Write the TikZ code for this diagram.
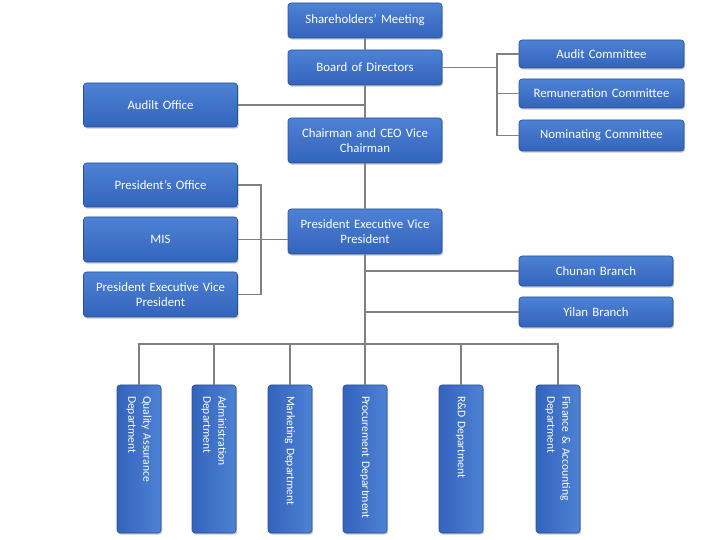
\documentclass[tikz,border=0pt]{standalone}
\usepackage{fontspec}
\setmainfont{Carlito}
\usetikzlibrary{shadows}
\definecolor{boxtop}{RGB}{78,130,212}
\definecolor{boxbot}{RGB}{50,100,188}
\definecolor{boxline}{RGB}{40,80,150}
\definecolor{conn}{RGB}{128,128,128}
\tikzset{
  orgbox/.style={draw=boxline, line width=0.6pt, top color=boxtop, bottom color=boxbot,
    rounded corners=3pt, text=white, font=\fontsize{12.8}{14.5}\selectfont, align=center,
    inner sep=2pt,
    drop shadow={shadow xshift=1.2pt, shadow yshift=-1.6pt, opacity=0.35, fill=black!60}},
  wide/.style={orgbox, minimum width=154pt, text width=150pt},
  comm/.style={orgbox, minimum width=165pt, text width=161pt},
  branch/.style={orgbox, minimum width=154pt, text width=150pt, minimum height=30pt},
  dept/.style={draw=boxline, line width=0.6pt, left color=boxbot, right color=boxtop,
    rounded corners=3pt, text=white, font=\fontsize{11.6}{15}\selectfont, align=left,
    rotate=-90, inner xsep=11pt, text width=126pt, minimum height=44pt, inner ysep=2pt,
    drop shadow={shadow xshift=1.2pt, shadow yshift=-1.6pt, opacity=0.35, fill=black!60}},
  conline/.style={draw=conn, line width=1.3pt}
}
\begin{document}
\begin{tikzpicture}[x=1pt,y=-1pt]
\useasboundingbox (0,0) rectangle (721,540);
% top column
\node[wide, minimum height=35pt] (sh) at (365,20.5) {Shareholders' Meeting};
\node[wide, minimum height=35pt] (bod) at (365,67.5) {Board of Directors};
\node[wide, minimum height=45pt] (ch) at (365,140.5) {Chairman and CEO Vice\\Chairman};
\node[wide, minimum height=44pt] (ao) at (160.5,105) {Audilt Office};
\node[comm, minimum height=28pt] (ac) at (601.5,54) {Audit Committee};
\node[comm, minimum height=29pt] (rc) at (601.5,93.5) {Remuneration Committee};
\node[comm, minimum height=31pt] (nc) at (601.5,135.5) {Nominating Committee};
\node[wide, minimum height=45pt] (pres) at (365,231.5) {President Executive Vice\\President};
\node[wide, minimum height=44pt] (po) at (160.5,185) {President's Office};
\node[wide, minimum height=45pt] (mis) at (160.5,239.5) {MIS};
\node[wide, minimum height=45pt] (pl) at (160.5,294.5) {President Executive Vice\\President};
\node[branch] (cb) at (596,271) {Chunan Branch};
\node[branch] (yb) at (596,312) {Yilan Branch};
% departments
\node[dept] (qa) at (139,459) {Quality Assurance\\Department};
\node[dept] (ad) at (214,459) {Administration\\Department};
\node[dept] (mk) at (290,459) {Marketing Department};
\node[dept] (pr) at (365,459) {Procurement Department};
\node[dept] (rd) at (461,459) {R\&D Department};
\node[dept] (fa) at (558,459) {Finance \& Accounting\\Department};
% coordinates
\coordinate (cbr) at (497,68);
\coordinate (lbr) at (261,240);
\coordinate (bus) at (365,344);
% connectors
\draw[conline] (sh.south) -- (bod.north);
\draw[conline] (bod.south) -- (ch.north);
\draw[conline] (ch.south) -- (pres.north);
\draw[conline] (pres.south) -- (pr.west);
\draw[conline] (ao.east) -- (ao.east -| bod.south);
\draw[conline] (bod.east) -- (bod.east -| cbr);
\draw[conline] (ac.west) -- (ac.west -| cbr) -- (nc.west -| cbr) -- (nc.west);
\draw[conline] (rc.west) -- (rc.west -| cbr);
\draw[conline] (po.east) -- (po.east -| lbr) -- (pl.east -| lbr) -- (pl.east);
\draw[conline] (mis.east) -- (mis.east -| pres.west);
\draw[conline] (cb.west -| pres.south) -- (cb.west);
\draw[conline] (yb.west -| pres.south) -- (yb.west);
\draw[conline] (qa.west) -- (qa.west |- bus) -- (fa.west |- bus) -- (fa.west);
\draw[conline] (ad.west) -- (ad.west |- bus);
\draw[conline] (mk.west) -- (mk.west |- bus);
\draw[conline] (rd.west) -- (rd.west |- bus);
\end{tikzpicture}
\end{document}
